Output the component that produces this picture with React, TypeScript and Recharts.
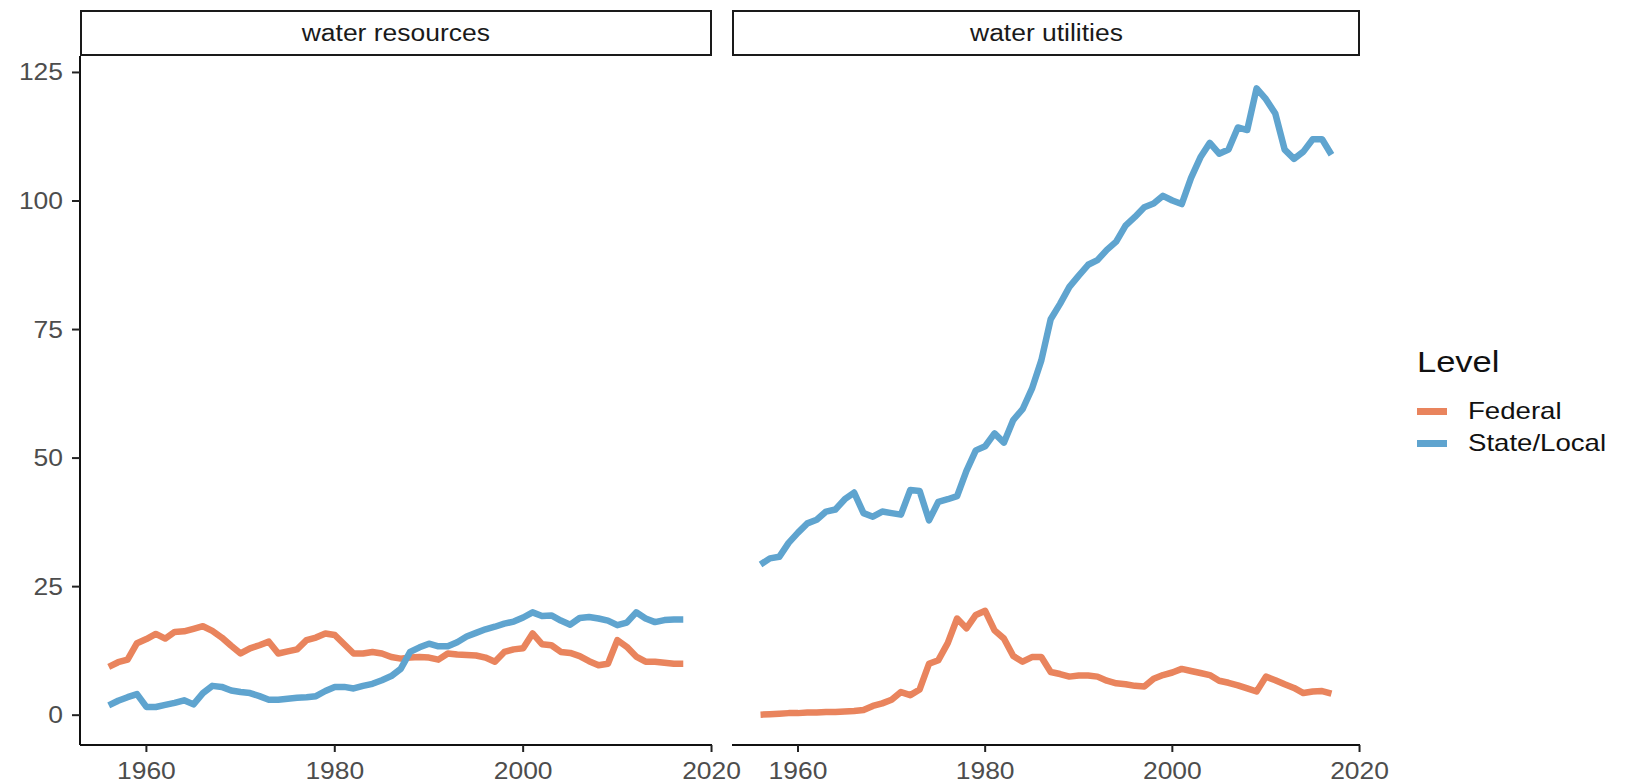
import { LineChart, Line, XAxis, YAxis } from 'recharts';

// years on the x axis, 1956-2017
const years = [
  1956, 1957, 1958, 1959, 1960, 1961, 1962, 1963, 1964, 1965,
  1966, 1967, 1968, 1969, 1970, 1971, 1972, 1973, 1974, 1975,
  1976, 1977, 1978, 1979, 1980, 1981, 1982, 1983, 1984, 1985,
  1986, 1987, 1988, 1989, 1990, 1991, 1992, 1993, 1994, 1995,
  1996, 1997, 1998, 1999, 2000, 2001, 2002, 2003, 2004, 2005,
  2006, 2007, 2008, 2009, 2010, 2011, 2012, 2013, 2014, 2015,
  2016, 2017,
];

// water resources
const resourcesFederal = [
  9.4, 10.3, 10.8, 14.0, 14.8, 15.8, 14.9, 16.2, 16.3, 16.8,
  17.3, 16.4, 15.1, 13.5, 12.0, 13.0, 13.6, 14.3, 12.0, 12.4,
  12.8, 14.6, 15.1, 15.9, 15.6, 13.8, 12.0, 12.0, 12.3, 12.0,
  11.3, 11.0, 11.2, 11.3, 11.2, 10.8, 12.0, 11.8, 11.7, 11.6,
  11.2, 10.4, 12.3, 12.8, 13.0, 15.9, 13.8, 13.6, 12.3, 12.1,
  11.5, 10.5, 9.7, 10.0, 14.6, 13.3, 11.4, 10.4, 10.4, 10.2,
  10.0, 10.0,
];
const resourcesState = [
  1.9, 2.8, 3.5, 4.1, 1.6, 1.6, 2.0, 2.4, 2.9, 2.1,
  4.3, 5.7, 5.5, 4.8, 4.5, 4.3, 3.7, 3.0, 3.0, 3.2,
  3.4, 3.5, 3.7, 4.7, 5.5, 5.5, 5.2, 5.7, 6.1, 6.8,
  7.6, 9.0, 12.3, 13.2, 13.9, 13.4, 13.4, 14.2, 15.3, 16.0,
  16.7, 17.2, 17.8, 18.2, 19.0, 20.0, 19.3, 19.4, 18.4, 17.6,
  18.9, 19.1, 18.8, 18.4, 17.5, 18.0, 20.0, 18.8, 18.1, 18.5,
  18.6, 18.6,
];

// water utilities
const utilitiesFederal = [
  0.1, 0.2, 0.3, 0.4, 0.4, 0.5, 0.5, 0.6, 0.6, 0.7,
  0.8, 1.0, 1.8, 2.3, 3.0, 4.5, 3.9, 5.0, 10.0, 10.7,
  14.0, 18.8, 16.9, 19.5, 20.3, 16.5, 14.9, 11.5, 10.4, 11.3,
  11.3, 8.4, 8.0, 7.5, 7.7, 7.7, 7.5, 6.7, 6.2, 6.0,
  5.7, 5.6, 7.1, 7.8, 8.3, 9.0, 8.6, 8.2, 7.8, 6.7,
  6.3, 5.8, 5.2, 4.6, 7.5, 6.8, 6.0, 5.3, 4.3, 4.6,
  4.7, 4.2,
];
const utilitiesState = [
  29.3, 30.5, 30.8, 33.5, 35.5, 37.3, 38.0, 39.6, 40.0, 42.0,
  43.3, 39.3, 38.6, 39.6, 39.3, 39.0, 43.8, 43.6, 37.9, 41.5,
  42.0, 42.6, 47.5, 51.5, 52.3, 54.8, 53.0, 57.4, 59.5, 63.5,
  69.0, 77.0, 80.0, 83.3, 85.5, 87.6, 88.5, 90.5, 92.1, 95.2,
  96.9, 98.8, 99.5, 101.0, 100.1, 99.4, 104.5, 108.5, 111.3, 109.2,
  110.0, 114.3, 113.8, 121.9, 119.8, 117.0, 110.0, 108.2, 109.6, 112.0,
  112.0, 109.0,
];

const xTicks = [1960, 1980, 2000, 2020];
const yTicks = [0, 25, 50, 75, 100, 125];
const panels = ['water resources', 'water utilities'];
const levels = ['Federal', 'State/Local'];

const COLORS = ['#e9845d', '#5fa4cf'];
const FONT = '"Liberation Sans", Arial, Helvetica, sans-serif';
const STRETCH = 1.15;

const resourcesData = years.map((year, i) => ({
  year,
  federal: resourcesFederal[i],
  state: resourcesState[i],
}));
const utilitiesData = years.map((year, i) => ({
  year,
  federal: utilitiesFederal[i],
  state: utilitiesState[i],
}));

const XTick = (props: any) => {
  const { x, y, payload } = props;
  return (
    <text
      transform={`translate(${x},${y + 27}) scale(${STRETCH},1)`}
      textAnchor="middle"
      fontSize={23}
      fontFamily={FONT}
      fill="#4d4d4d"
    >
      {payload.value}
    </text>
  );
};

const YTick = (props: any) => {
  const { x, y, payload } = props;
  return (
    <text
      transform={`translate(${x},${y + 8}) scale(${STRETCH},1)`}
      textAnchor="end"
      fontSize={23}
      fontFamily={FONT}
      fill="#4d4d4d"
    >
      {payload.value}
    </text>
  );
};

const Strip = ({ label, left, width }: { label: string; left: number; width: number }) => (
  <div
    style={{
      position: 'absolute',
      left,
      top: 10,
      width,
      height: 46,
      boxSizing: 'border-box',
      border: '2px solid #1a1a1a',
      display: 'flex',
      alignItems: 'center',
      justifyContent: 'center',
      fontFamily: FONT,
      fontSize: 23,
      color: '#1a1a1a',
    }}
  >
    <span style={{ display: 'inline-block', transform: `scaleX(${STRETCH})` }}>{label}</span>
  </div>
);

const Panel = ({ data, showY, width, left, margin }: any) => (
  <div style={{ position: 'absolute', left, top: 0 }}>
    <LineChart width={width} height={784} data={data} margin={margin}>
      <XAxis
        dataKey="year"
        type="number"
        domain={[1952.95, 2020.05]}
        ticks={xTicks}
        interval={0}
        allowDataOverflow
        height={39}
        tickSize={7}
        tickMargin={0}
        axisLine={{ stroke: '#111', strokeWidth: 2 }}
        tickLine={{ stroke: '#222', strokeWidth: 2 }}
        tick={<XTick />}
      />
      <YAxis
        type="number"
        domain={[-5.8, 128.2]}
        ticks={yTicks}
        interval={0}
        allowDataOverflow
        hide={!showY}
        width={80}
        tickSize={8}
        tickMargin={9}
        axisLine={{ stroke: '#111', strokeWidth: 2 }}
        tickLine={{ stroke: '#222', strokeWidth: 2 }}
        tick={<YTick />}
      />
      <Line
        dataKey="federal"
        type="linear"
        stroke={COLORS[0]}
        strokeWidth={6.5}
        strokeLinejoin="round"
        dot={false}
        isAnimationActive={false}
      />
      <Line
        dataKey="state"
        type="linear"
        stroke={COLORS[1]}
        strokeWidth={6.5}
        strokeLinejoin="round"
        dot={false}
        isAnimationActive={false}
      />
    </LineChart>
  </div>
);

export default function App() {
  return (
    <div
      style={{
        position: 'absolute',
        left: 0,
        top: 0,
        width: 1625,
        height: 784,
        background: '#fff',
        overflow: 'hidden',
      }}
    >
      <Panel
        data={resourcesData}
        showY
        left={0}
        width={760}
        margin={{ top: 56, right: 48, bottom: 0, left: 0 }}
      />
      <Panel
        data={utilitiesData}
        showY={false}
        left={712}
        width={700}
        margin={{ top: 56, right: 52, bottom: 0, left: 20 }}
      />
      <Strip label={panels[0]} left={80} width={632} />
      <Strip label={panels[1]} left={732} width={628} />

      {/* legend */}
      <div style={{ position: 'absolute', left: 1417, top: 343, fontFamily: FONT, color: '#111' }}>
        <div
          style={{
            fontSize: 30,
            lineHeight: '38px',
            transform: `scaleX(${STRETCH})`,
            transformOrigin: 'left center',
          }}
        >
          Level
        </div>
        {levels.map((lvl, i) => (
          <div
            key={lvl}
            style={{ position: 'absolute', left: 0, top: 52 + i * 32, height: 32, display: 'flex', alignItems: 'center' }}
          >
            <div style={{ width: 30, height: 7, background: COLORS[i] }} />
            <div
              style={{
                marginLeft: 21,
                fontSize: 24,
                whiteSpace: 'nowrap',
                transform: `scaleX(${STRETCH})`,
                transformOrigin: 'left center',
              }}
            >
              {lvl}
            </div>
          </div>
        ))}
      </div>
    </div>
  );
}
